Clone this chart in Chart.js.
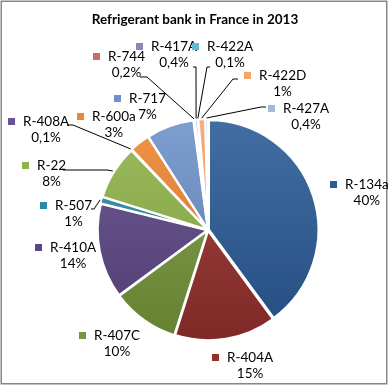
<!DOCTYPE html>
<html>
<head>
<meta charset="utf-8">
<title>Refrigerant bank in France in 2013</title>
<script src="https://cdn.jsdelivr.net/npm/chart.js@4.4.1/dist/chart.umd.min.js"></script>
<style>
  html, body { margin: 0; padding: 0; background: #fff; }
  #wrap { position: relative; width: 389px; height: 386px; }
  canvas { display: block; }
</style>
</head>
<body>
<div id="wrap"><canvas id="bankChart" width="389" height="386"></canvas></div>
<script>
// slices, clockwise from 12 o'clock (same order as the Excel source)
const refrigerants = [
  "R-134a", "R-404A", "R-407C", "R-410A", "R-507", "R-22", "R-408A",
  "R-600a", "R-717", "R-744", "R-417A", "R-422A", "R-422D", "R-427A",
];
const shares = [40, 15, 10, 14, 1, 8, 0.1, 3, 7, 0.2, 0.4, 0.1, 1, 0.4];
const shareLabels = [
  "40%", "15%", "10%", "14%", "1%", "8%", "0,1%",
  "3%", "7%", "0,2%", "0,4%", "0,1%", "1%", "0,4%",
];

const sliceColors = [
  "#295a97", "#952f2c", "#76983a", "#5c4686", "#2b8aa5", "#8fb448", "#6a5296",
  "#ee8530", "#6c91c9", "#c96b69", "#9683b5", "#5fbbd3", "#f6a36c", "#a9b8d9",
];

// where Excel put each data label: name start x, name middle y, and an
// optional leader line start (x, y, elbow dx)
const labelPlaces = [
  { x: 345, y: 185 },
  { x: 227, y: 358 },
  { x: 94, y: 336 },
  { x: 50, y: 248 },
  { x: 55, y: 206, line: [91, 209, 3] },
  { x: 37, y: 166, line: [63, 170, 44] },
  { x: 23, y: 122, line: [67, 125, 6] },
  { x: 92, y: 117 },
  { x: 129, y: 99 },
  { x: 108, y: 57, line: [140, 77, 7] },
  { x: 151, y: 47, line: [193, 67, 3] },
  { x: 207, y: 47, line: [210, 67, -3] },
  { x: 259, y: 76, line: [238, 79, -5] },
  { x: 283, y: 109, line: [266, 107, -5] },
];

const LABEL_FONT = "13.5px Lato, 'Open Sans', sans-serif";
const TITLE_FONT = "bold 13.5px Lato, 'Open Sans', sans-serif";

function shade(hex, amt) {
  const n = parseInt(hex.slice(1), 16);
  const f = (c) => Math.max(0, Math.min(255, Math.round(c + amt * (amt > 0 ? 255 - c : c))));
  const r = f(n >> 16), g = f((n >> 8) & 255), b = f(n & 255);
  return "rgb(" + r + "," + g + "," + b + ")";
}

function sliceFill(context) {
  const chart = context.chart;
  const area = chart.chartArea;
  const base = sliceColors[context.dataIndex];
  if (!area) return base;
  const grad = chart.ctx.createLinearGradient(0, area.top, 0, area.bottom);
  grad.addColorStop(0, shade(base, 0.12));
  grad.addColorStop(1, shade(base, -0.15));
  return grad;
}

const frameAndLabels = {
  id: "frameAndLabels",
  beforeDraw(chart) {
    const ctx = chart.ctx;
    ctx.save();
    ctx.fillStyle = "#fff";
    ctx.fillRect(0, 0, chart.width, chart.height);
    ctx.strokeStyle = "#878787";
    ctx.lineWidth = 1.5;
    ctx.strokeRect(1.25, 1.25, 385.5, 382.5);
    ctx.restore();
  },
  afterDatasetsDraw(chart) {
    const ctx = chart.ctx;
    const arcs = chart.getDatasetMeta(0).data;
    ctx.save();

    ctx.font = TITLE_FONT;
    ctx.fillStyle = "#000";
    ctx.textAlign = "center";
    ctx.textBaseline = "middle";
    ctx.fillText("Refrigerant bank in France in 2013", 195, 20);

    ctx.font = LABEL_FONT;
    arcs.forEach((arc, i) => {
      const place = labelPlaces[i];
      const nameW = ctx.measureText(refrigerants[i]).width;

      if (place.line) {
        const mid = (arc.startAngle + arc.endAngle) / 2;
        const r = arc.outerRadius + arc.options.offset - 1;
        const ex = arc.x + Math.cos(mid) * r;
        const ey = arc.y + Math.sin(mid) * r;
        const [lx, ly, dx] = place.line;
        ctx.strokeStyle = "#000";
        ctx.lineWidth = 1;
        ctx.beginPath();
        ctx.moveTo(lx, ly);
        ctx.lineTo(lx + dx, ly);
        ctx.lineTo(ex, ey);
        ctx.stroke();
      }

      ctx.fillStyle = sliceColors[i];
      ctx.fillRect(place.x - 15, place.y - 4, 7, 7);

      ctx.fillStyle = "#000";
      ctx.textBaseline = "middle";
      ctx.textAlign = "left";
      ctx.fillText(refrigerants[i], place.x, place.y);
      ctx.textAlign = "center";
      ctx.fillText(shareLabels[i], place.x + nameW / 2, place.y + 16);
    });
    ctx.restore();
  },
};

new Chart(document.getElementById("bankChart"), {
  type: "pie",
  data: {
    labels: refrigerants,
    datasets: [
      {
        data: shares,
        backgroundColor: sliceFill,
        borderColor: "#ffffff",
        borderWidth: 2,
        offset: 4,
      },
    ],
  },
  options: {
    responsive: false,
    animation: false,
    events: [],
    layout: { padding: { left: 96, right: 69, top: 118, bottom: 44 } },
    plugins: {
      legend: { display: false },
      tooltip: { enabled: false },
      title: { display: false },
    },
  },
  plugins: [frameAndLabels],
});
</script>
</body>
</html>
